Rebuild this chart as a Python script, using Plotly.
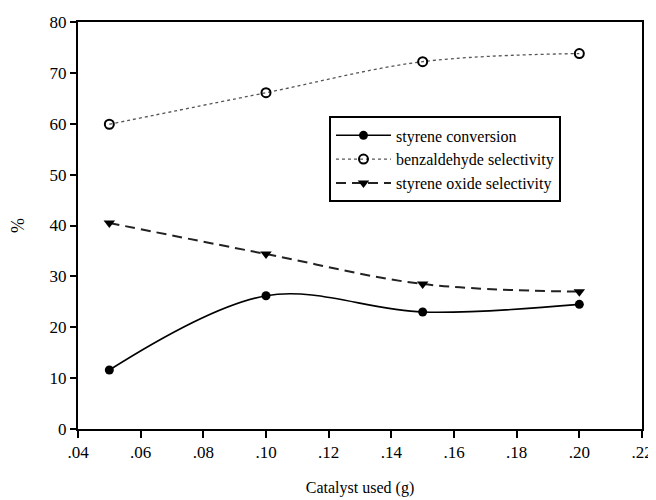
import plotly.graph_objects as go

catalyst_g = [0.05, 0.10, 0.15, 0.20]
styrene_conversion = [11.6, 26.2, 23.0, 24.5]
benzaldehyde_selectivity = [59.9, 66.1, 72.2, 73.8]
styrene_oxide_selectivity = [40.5, 34.4, 28.5, 27.0]

x_tick_vals = [0.04, 0.06, 0.08, 0.10, 0.12, 0.14, 0.16, 0.18, 0.20, 0.22]
x_tick_text = [".04", ".06", ".08", ".10", ".12", ".14", ".16", ".18", ".20", ".22"]
y_tick_vals = [0, 10, 20, 30, 40, 50, 60, 70, 80]

FONT = "Liberation Serif, Times New Roman, serif"

fig = go.Figure()
fig.add_trace(go.Scatter(
    x=catalyst_g, y=styrene_conversion, name="styrene conversion",
    mode="lines+markers", line=dict(color="black", width=1.6, shape="spline"),
    marker=dict(symbol="circle", size=9, color="black"),
))
fig.add_trace(go.Scatter(
    x=catalyst_g, y=benzaldehyde_selectivity, name="benzaldehyde selectivity",
    mode="lines+markers", line=dict(color="#555555", width=1.3, dash="dot", shape="spline"),
    marker=dict(symbol="circle-open", size=9, color="black", line=dict(width=2, color="black")),
))
fig.add_trace(go.Scatter(
    x=catalyst_g, y=styrene_oxide_selectivity, name="styrene oxide selectivity",
    mode="lines+markers", line=dict(color="#222222", width=2, dash="10px,6px", shape="spline"),
    marker=dict(symbol="triangle-down", size=10, color="black"),
))

fig.update_layout(
    width=656, height=500,
    margin=dict(l=70, r=22, t=14, b=79),
    paper_bgcolor="white", plot_bgcolor="white",
    font=dict(family=FONT, color="black", size=16),
    showlegend=True,
    legend=dict(
        x=0.445, y=0.768, xanchor="left", yanchor="top",
        bordercolor="black", borderwidth=2, bgcolor="white",
        font=dict(family=FONT, size=16, color="black"),
        tracegroupgap=0, itemwidth=55,
    ),
    xaxis=dict(
        range=[0.04, 0.22], tickvals=x_tick_vals, ticktext=x_tick_text,
        showgrid=False, zeroline=False, showline=True, linecolor="black", linewidth=2,
        mirror=True, ticks="outside", ticklen=7, tickwidth=2, tickcolor="black",
        tickfont=dict(family=FONT, size=17), automargin=False,
        title=dict(text="Catalyst used (g)", font=dict(family=FONT, size=16), standoff=20),
    ),
    yaxis=dict(
        range=[0, 80], tickvals=y_tick_vals,
        showgrid=False, zeroline=False, showline=True, linecolor="black", linewidth=2,
        mirror=True, ticks="outside", ticklen=6, tickwidth=2, tickcolor="black",
        tickfont=dict(family=FONT, size=17), automargin=False,
        title=dict(text="%", font=dict(family=FONT, size=18), standoff=20),
    ),
)

fig.write_html("out.html")
